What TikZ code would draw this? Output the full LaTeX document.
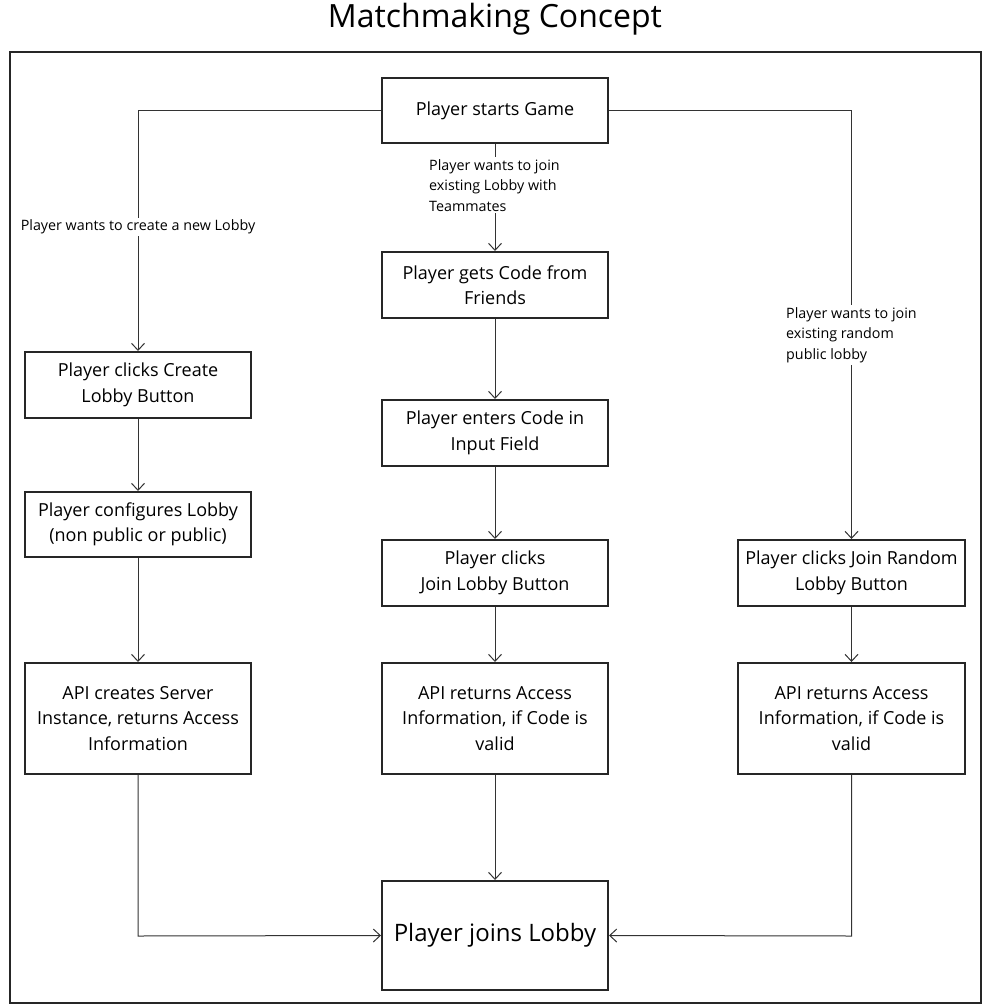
\documentclass[tikz,border=0pt]{standalone}
\usepackage{fontspec}
\setmainfont{Open Sans}
\usetikzlibrary{arrows.meta}
\hyphenpenalty=10000
\exhyphenpenalty=10000
\begin{document}
\begin{tikzpicture}[x=1pt,y=-1pt,
  box/.style={draw=black!85,line width=2pt,fill=white,minimum width=226pt,inner sep=0pt,align=center,font=\fontsize{18}{25.5}\selectfont},
  conn/.style={draw=black!80,line width=1pt,-{Straight Barb[length=7pt,width=13pt,line width=1pt]}},
  lbl/.style={fill=white,inner sep=2pt,font=\fontsize{14.3}{20.5}\selectfont,align=left}
]
\useasboundingbox (0,0) rectangle (991,1008);
\node[font=\fontsize{32}{36}\selectfont] (title) at (495,19) {Matchmaking Concept};
\draw[line width=2pt,black!85] (10,52) rectangle (981,1003);

\node[box,minimum height=65pt] (start) at (495,110.5) {Player starts Game};
\node[box,minimum height=66pt] (code) at (495,285) {Player gets Code from\\Friends};
\node[box,minimum height=66pt] (enter) at (495,433) {Player enters Code in\\Input Field};
\node[box,minimum height=66pt] (clickj) at (495,573) {Player clicks\\Join Lobby Button};
\node[box,minimum height=111pt] (apim) at (495,718.5) {API returns Access\\Information, if Code is\\valid};
\node[box,minimum height=109pt,font=\fontsize{24}{28}\selectfont] (join) at (495,935.5) {Player joins Lobby};

\node[box,minimum height=66pt] (create) at (138,385) {Player clicks Create\\Lobby Button};
\node[box,minimum height=65pt] (config) at (138,524.5) {Player configures Lobby\\(non public or public)};
\node[box,minimum height=111pt] (apil) at (138,718.5) {API creates Server\\Instance, returns Access\\Information};

\node[box,minimum height=66pt,minimum width=227pt] (random) at (851.5,573) {Player clicks Join Random\\Lobby Button};
\node[box,minimum height=111pt,minimum width=227pt] (apir) at (851.5,718.5) {API returns Access\\Information, if Code is\\valid};

\coordinate (cl) at (138,110.5);
\coordinate (cr) at (851.5,110.5);
\coordinate (bl) at (138,936);
\coordinate (br) at (851.5,936);

\draw[conn] (start.west) -- (cl) -- (create.north);
\draw[conn] (start.east) -- (cr) -- (random.north);
\draw[conn] (start.south) -- (code.north);
\draw[conn] (code.south) -- (enter.north);
\draw[conn] (enter.south) -- (clickj.north);
\draw[conn] (clickj.south) -- (apim.north);
\draw[conn] (apim.south) -- (join.north);
\draw[conn] (create.south) -- (config.north);
\draw[conn] (config.south) -- (apil.north);
\draw[conn] (random.south) -- (apir.north);
\draw[conn] (apil.south) -- (bl) -- (join.west);
\draw[conn] (apir.south) -- (br) -- (join.east);

\node[lbl] (l1) at (138,227) {Player wants to create a new Lobby};
\node[lbl,anchor=north west] (l2) at (427,157) {Player wants to join\\existing Lobby with\\Teammates};
\node[lbl,anchor=north west] (l3) at (784,305) {Player wants to join\\existing random\\public lobby};
\end{tikzpicture}
\end{document}
